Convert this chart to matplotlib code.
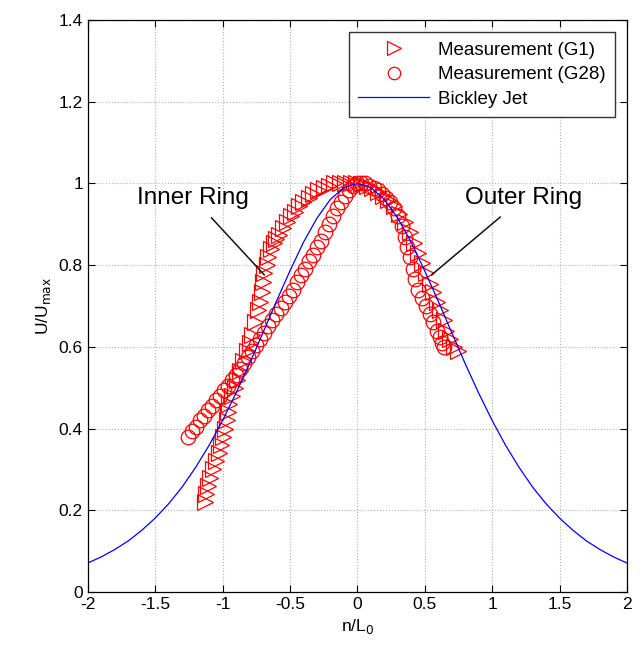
import matplotlib

matplotlib.use("Agg")
import matplotlib.pyplot as plt

plt.rcParams["font.family"] = ["Liberation Sans", "DejaVu Sans"]

# Measurement (G1), right-pointing triangles
g1_n = [-1.13, -1.12, -1.11, -1.09, -1.07, -1.05, -1.03, -1.01, -1.00, -0.98,
        -0.97, -0.96, -0.95, -0.93, -0.91, -0.89, -0.87, -0.85, -0.82, -0.80,
        -0.78, -0.76, -0.74, -0.72, -0.71, -0.70, -0.69, -0.67, -0.66, -0.64,
        -0.62, -0.60, -0.58, -0.55, -0.52, -0.49, -0.46, -0.43, -0.40, -0.36,
        -0.33, -0.29, -0.25, -0.21, -0.17, -0.13, -0.09, -0.05, -0.01, 0.03,
        0.07, 0.11, 0.15, 0.19, 0.23, 0.27, 0.31, 0.35, 0.39, 0.42,
        0.45, 0.48, 0.51, 0.54, 0.56, 0.59, 0.61, 0.64, 0.66, 0.69,
        0.72, 0.75]
g1_u = [0.22, 0.24, 0.26, 0.28, 0.30, 0.32, 0.34, 0.36, 0.38, 0.40,
        0.42, 0.44, 0.46, 0.48, 0.50, 0.52, 0.54, 0.565, 0.59, 0.61,
        0.63, 0.66, 0.69, 0.71, 0.735, 0.76, 0.78, 0.80, 0.82, 0.84,
        0.855, 0.865, 0.875, 0.89, 0.905, 0.92, 0.93, 0.945, 0.955, 0.965,
        0.975, 0.985, 0.99, 0.995, 1.0, 1.0, 1.0, 1.0, 1.0, 0.998,
        0.995, 0.99, 0.98, 0.97, 0.96, 0.945, 0.925, 0.905, 0.88, 0.855,
        0.83, 0.805, 0.78, 0.755, 0.735, 0.71, 0.69, 0.665, 0.64, 0.62,
        0.60, 0.59]

# Measurement (G28), circles
g28_n = [-1.26, -1.23, -1.20, -1.17, -1.14, -1.11, -1.08, -1.05, -1.02, -0.99,
         -0.96, -0.93, -0.90, -0.87, -0.84, -0.81, -0.78, -0.75, -0.72, -0.69,
         -0.66, -0.63, -0.60, -0.57, -0.54, -0.51, -0.48, -0.45, -0.42, -0.39,
         -0.36, -0.33, -0.30, -0.27, -0.24, -0.21, -0.18, -0.15, -0.12, -0.09,
         -0.06, -0.03, 0.00, 0.03, 0.06, 0.09, 0.12, 0.15, 0.18, 0.21,
         0.24, 0.27, 0.30, 0.33, 0.35, 0.37, 0.39, 0.41, 0.43, 0.45,
         0.48, 0.51, 0.54, 0.56, 0.59, 0.61, 0.63, 0.64]
g28_u = [0.38, 0.395, 0.405, 0.42, 0.43, 0.445, 0.455, 0.47, 0.48, 0.495,
         0.505, 0.52, 0.53, 0.545, 0.56, 0.575, 0.59, 0.605, 0.62, 0.635,
         0.65, 0.665, 0.68, 0.695, 0.71, 0.725, 0.74, 0.76, 0.775, 0.79,
         0.81, 0.825, 0.845, 0.86, 0.88, 0.90, 0.92, 0.94, 0.955, 0.97,
         0.985, 0.995, 1.0, 1.0, 1.0, 0.995, 0.99, 0.985, 0.975, 0.965,
         0.955, 0.94, 0.92, 0.895, 0.87, 0.845, 0.82, 0.79, 0.765, 0.74,
         0.72, 0.70, 0.68, 0.66, 0.64, 0.625, 0.61, 0.60]

# Bickley jet profile
jet_n = [-2.0, -1.9, -1.8, -1.7, -1.6, -1.5, -1.4, -1.3, -1.2, -1.1,
         -1.0, -0.9, -0.8, -0.7, -0.6, -0.5, -0.4, -0.3, -0.2, -0.1,
         0.0, 0.1, 0.2, 0.3, 0.4, 0.5, 0.6, 0.7, 0.8, 0.9,
         1.0, 1.1, 1.2, 1.3, 1.4, 1.5, 1.6, 1.7, 1.8, 1.9, 2.0]
jet_u = [0.071, 0.086, 0.104, 0.125, 0.151, 0.181, 0.216, 0.257, 0.305, 0.359,
         0.420, 0.487, 0.559, 0.635, 0.712, 0.786, 0.856, 0.915, 0.961, 0.990,
         1.0, 0.990, 0.961, 0.915, 0.856, 0.786, 0.712, 0.635, 0.559, 0.487,
         0.420, 0.359, 0.305, 0.257, 0.216, 0.181, 0.151, 0.125, 0.104, 0.086, 0.071]

x_ticks = [-2, -1.5, -1, -0.5, 0, 0.5, 1, 1.5, 2]
x_labels = ["-2", "-1.5", "-1", "-0.5", "0", "0.5", "1", "1.5", "2"]
y_ticks = [0, 0.2, 0.4, 0.6, 0.8, 1, 1.2, 1.4]
y_labels = ["0", "0.2", "0.4", "0.6", "0.8", "1", "1.2", "1.4"]

fig = plt.figure(figsize=(6.41, 6.47), dpi=100)
ax = fig.add_axes([0.137, 0.085, 0.841, 0.884])

ax.plot(g1_n, g1_u, linestyle="none", marker=">", markersize=11.5,
        markerfacecolor="none", markeredgecolor="#ff0000", markeredgewidth=0.9,
        label="Measurement (G1)")
ax.plot(g28_n, g28_u, linestyle="none", marker="o", markersize=10.5,
        markerfacecolor="none", markeredgecolor="#ff0000", markeredgewidth=0.9,
        label="Measurement (G28)")
ax.plot(jet_n, jet_u, color="#0000ff", linewidth=0.9, label="Bickley Jet")

ax.annotate("Inner Ring", xy=(-0.69, 0.776), xytext=(-1.22, 0.965),
            fontsize=17.5, ha="center", va="center",
            arrowprops=dict(arrowstyle="-", color="#111111", lw=1.1,
                            shrinkA=6, shrinkB=0))
ax.annotate("Outer Ring", xy=(0.55, 0.776), xytext=(1.23, 0.965),
            fontsize=17.5, ha="center", va="center",
            arrowprops=dict(arrowstyle="-", color="#111111", lw=1.1,
                            shrinkA=6, shrinkB=0))

ax.set_xlim(-2, 2)
ax.set_ylim(0, 1.4)
ax.set_xticks(x_ticks)
ax.set_xticklabels(x_labels)
ax.set_yticks(y_ticks)
ax.set_yticklabels(y_labels)
ax.tick_params(axis="both", direction="in", top=True, right=True,
               labelsize=12.5, length=5, width=0.8)
ax.grid(True, linestyle=":", color="#b0b0b0", linewidth=0.8)
ax.set_xlabel("n/L$_0$", fontsize=12.5)
ax.set_ylabel("U/U$_{\\mathrm{max}}$", fontsize=12.5)
for spine in ax.spines.values():
    spine.set_linewidth(0.9)

ax.legend(loc="upper right", fontsize=13.5, frameon=True, fancybox=False,
          edgecolor="#333333", framealpha=1.0, borderpad=0.5,
          handlelength=3.8, handletextpad=0.45, labelspacing=0.4,
          borderaxespad=0.65, markerscale=0.85)

fig.savefig("out.png", dpi=100)
